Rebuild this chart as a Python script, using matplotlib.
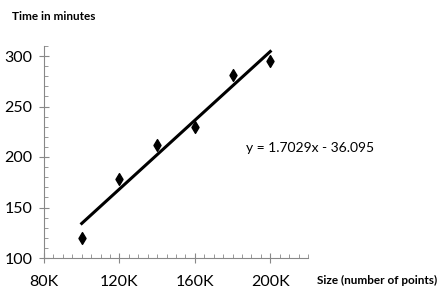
import matplotlib.pyplot as plt
import numpy as np
from matplotlib.ticker import MultipleLocator, FuncFormatter

# Data (size in thousands of points, time in minutes)
sizes_k = [100, 120, 140, 160, 180, 200]
times_min = [120, 178, 212, 230, 281, 295]

# Trendline as printed on the chart
slope = 1.7029
intercept = -36.095

plt.rcParams['font.family'] = ['Lato', 'DejaVu Sans']

fig = plt.figure(figsize=(4.4, 3.0), dpi=100)
ax = fig.add_axes([0.1, 0.14, 0.6, 0.707])

ax.scatter(sizes_k, times_min, marker='d', s=36, color='black', zorder=3)

x_fit = np.array([min(sizes_k), max(sizes_k)])
ax.plot(x_fit, np.polyval([slope, intercept], x_fit), color='black', lw=2.2)

ax.set_xlim(80, 220)
ax.set_ylim(100, 310)

ax.xaxis.set_major_locator(MultipleLocator(40))
ax.xaxis.set_minor_locator(MultipleLocator(5))
ax.yaxis.set_major_locator(MultipleLocator(50))
ax.yaxis.set_minor_locator(MultipleLocator(10))
ax.xaxis.set_major_formatter(FuncFormatter(lambda v, p: f'{int(v)}K'))

for s in ['top', 'right']:
    ax.spines[s].set_visible(False)
for s in ['left', 'bottom']:
    ax.spines[s].set_color('#888888')
    ax.spines[s].set_linewidth(0.8)

ax.tick_params(which='major', direction='inout', length=7, color='#888888',
               labelsize=11.5, pad=9)
ax.tick_params(which='minor', direction='in', length=3, color='#888888')
ax.tick_params(axis='y', which='major', pad=5)

fig.text(0.027, 0.935, 'Time in minutes', fontsize=8.5, fontweight='bold')
fig.text(0.72, 0.055, 'Size (number of points)', fontsize=8.5, fontweight='bold')
ax.text(187, 209, f'y = {slope}x - {abs(intercept)}', fontsize=10, va='center')

fig.savefig('out.png', dpi=100)
